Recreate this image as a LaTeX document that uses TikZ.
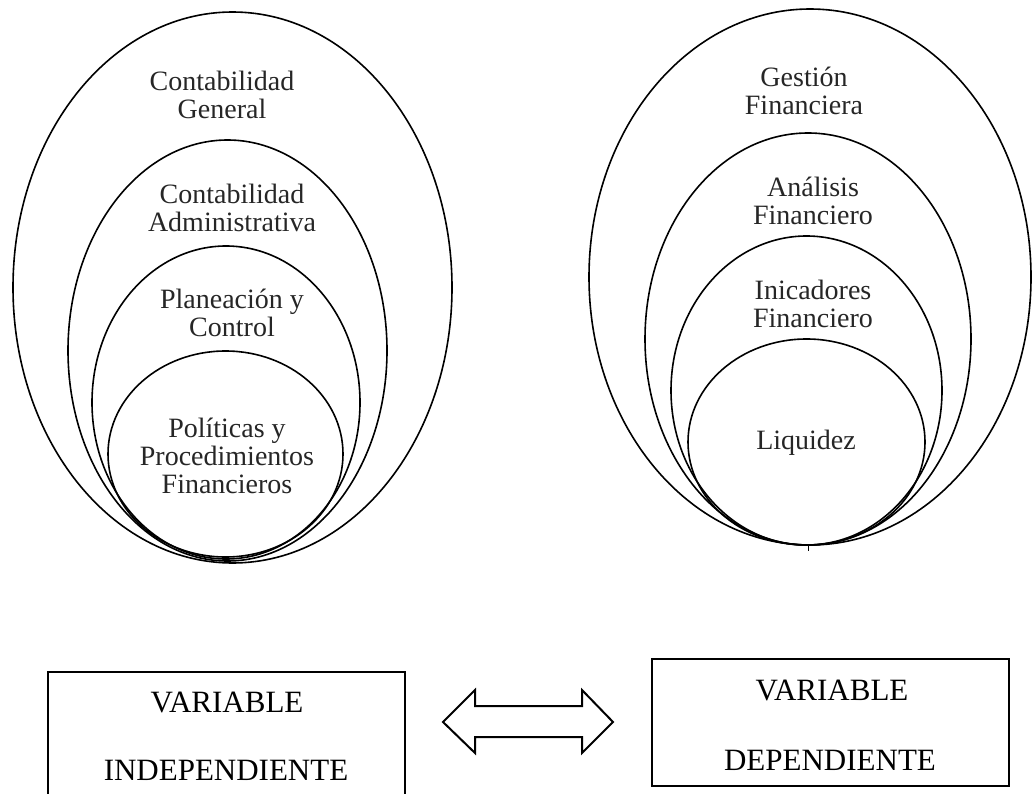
\documentclass[tikz,border=0pt]{standalone}
\usepackage{fontspec}
\setmainfont{Liberation Serif}
\usetikzlibrary{positioning}
\tikzset{
  ring/.style={black,line width=1.6pt},
  ringtext/.style={align=center,text=black!85,font=\fontsize{28}{28}\selectfont,inner sep=0pt},
  varbox/.style={draw,line width=2pt,minimum width=357pt,inner sep=0pt},
  vartext/.style={font=\fontsize{31}{31}\selectfont,inner sep=0pt}
}

\begin{document}
\begin{tikzpicture}[x=1pt,y=-1pt]
    \clip (0,0) rectangle (1032,794);
    % variable independiente
    \draw[ring] (232.5,287.5) ellipse [x radius=219.5,y radius=275.5];
    \draw[ring] (227.5,350.5) ellipse [x radius=159.5,y radius=210.5];
    \draw[ring] (226,402.5) ellipse [x radius=134,y radius=156.5];
    \draw[ring] (225.5,454) ellipse [x radius=117.5,y radius=103];
    \node[ringtext] (gral) at (222,95) {Contabilidad\\General};
    \node[ringtext] (admin) at (232,208) {Contabilidad\\Administrativa};
    \node[ringtext] (plan) at (232,313) {Planeación y\\Control};
    \node[ringtext] (polit) at (227,456) {Políticas y\\Procedimientos\\Financieros};
    % variable dependiente
    \draw[ring] (810,277) ellipse [x radius=221,y radius=268];
    \draw[ring] (808,339) ellipse [x radius=163,y radius=206];
    \draw[ring] (806.5,390.5) ellipse [x radius=135.5,y radius=154.5];
    \draw[ring] (806.5,442) ellipse [x radius=118.5,y radius=103];
    \draw[line width=0.5pt] (808,546) -- (808,551);
    \node[ringtext] (gest) at (804,91) {Gestión\\Financiera};
    \node[ringtext] (anal) at (813,201) {Análisis\\Financiero};
    \node[ringtext] (indic) at (813,304) {Inicadores\\Financiero};
    \node[ringtext] (liq) at (806,443) {Liquidez};
    % cajas
    \node[varbox,minimum height=196pt] (indep) at (226.5,770) {};
    \node[vartext] (indep1) at (227,702) {VARIABLE};
    \node[vartext] (indep2) at (226,770) {INDEPENDIENTE};
    \node[varbox,minimum height=127pt] (dep) at (830.5,722.5) {};
    \node[vartext] (dep1) at (832,690) {VARIABLE};
    \node[vartext] (dep2) at (830,760) {DEPENDIENTE};
    \draw[line width=2pt,line join=miter]
        (443,722) -- (475,690) -- (475,706) -- (582,706) -- (582,690) -- (613,722)
        -- (582,753) -- (582,737) -- (475,737) -- (475,753) -- cycle;
\end{tikzpicture}
\end{document}
